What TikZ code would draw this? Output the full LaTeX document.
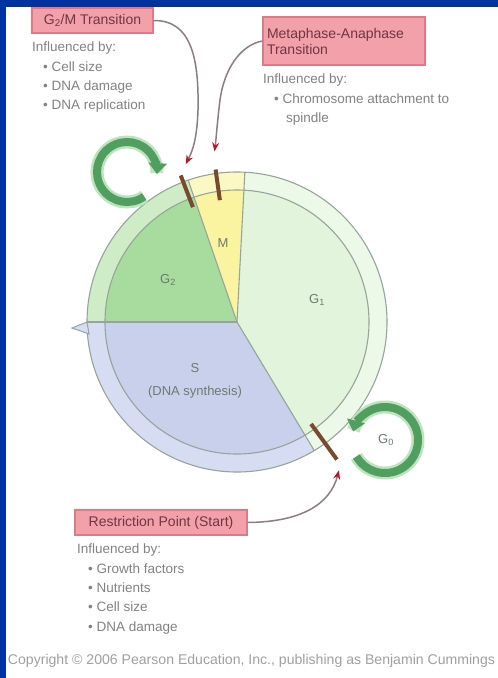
\documentclass[tikz,border=0pt]{standalone}
\usepackage{fontspec}
\setmainfont{Liberation Sans}
\usetikzlibrary{arrows.meta,calc}
\definecolor{bgblue}{RGB}{0,51,160}
\definecolor{gtwo}{RGB}{168,220,158}
\definecolor{gtworing}{RGB}{206,236,198}
\definecolor{mcol}{RGB}{250,244,160}
\definecolor{mring}{RGB}{252,248,196}
\definecolor{gone}{RGB}{226,244,220}
\definecolor{gonering}{RGB}{236,248,232}
\definecolor{scol}{RGB}{200,208,236}
\definecolor{sring}{RGB}{214,220,242}
\definecolor{edgec}{RGB}{150,165,155}
\definecolor{cpbrown}{RGB}{122,74,46}
\definecolor{tipred}{RGB}{190,20,40}
\definecolor{connc}{RGB}{140,125,132}
\definecolor{boxfill}{RGB}{242,160,170}
\definecolor{boxedge}{RGB}{224,120,136}
\definecolor{boxtext}{RGB}{110,55,65}
\definecolor{listgray}{RGB}{130,130,130}
\definecolor{loopgreen}{RGB}{80,158,96}
\definecolor{loophalo}{RGB}{190,228,190}
\definecolor{phasegray}{RGB}{110,122,110}
\definecolor{copygray}{RGB}{160,160,160}
\newcommand{\wedgefill}[4]{\fill[#4] (C) -- ($(C)+(#1:#3)$) arc[start angle=#1,end angle=#2,radius=#3] -- cycle;}
\tikzset{
  tbox/.style={draw=boxedge, fill=boxfill, line width=1.2pt, text=boxtext,
    font=\fontsize{14}{16}\selectfont, inner sep=3pt},
  listtext/.style={anchor=north west, inner sep=0pt, align=left, text=listgray,
    font=\fontsize{13.5}{19.3}\selectfont},
  phaselabel/.style={text=phasegray, font=\fontsize{13}{16}\selectfont, inner sep=1pt},
  edgeline/.style={draw=edgec, line width=1.1pt},
  cpbar/.style={draw=cpbrown, line width=4pt},
  conn/.style={draw=connc, line width=1.5pt, -{Stealth[color=tipred,length=9pt,width=7pt]}},
  loophaloline/.style={draw=loophalo, line width=13pt},
  loopline/.style={draw=loopgreen, line width=8pt},
}
\begin{document}
\begin{tikzpicture}[x=1pt,y=-1pt]
\useasboundingbox (0,0) rectangle (498,678);
\fill[white] (0,0) rectangle (498,678);
\fill[bgblue] (0,0) rectangle (498,7);
\fill[bgblue] (0,0) rectangle (6,678);

\coordinate (C) at (237,322);
% ring wedges
\wedgefill{273}{419}{150}{gonering}
\wedgefill{59}{180}{150}{sring}
\wedgefill{180}{251}{150}{gtworing}
\wedgefill{251}{273}{150}{mring}
% inner wedges
\wedgefill{273}{419}{132}{gone}
\wedgefill{59}{180}{132}{scol}
\wedgefill{180}{251}{132}{gtwo}
\wedgefill{251}{273}{132}{mcol}
% strokes
\draw[edgeline] (C) circle[radius=150];
\draw[edgeline] (C) circle[radius=132];
\foreach \a in {59,180,251,273} \draw[edgeline] (C) -- ($(C)+(\a:150)$);
% S arrow barb
\filldraw[fill=sring, draw=edgec, line width=1pt] (87,322) -- (72,328) -- (89,334) -- cycle;

% loops
\draw[loophaloline] (127,172) ++(55:30) arc[start angle=55,end angle=362,radius=30];
\draw[loopline, -{Triangle[length=11pt,width=18pt]}] (127,172) ++(55:30) arc[start angle=55,end angle=364,radius=30];
\draw[loophaloline] (385,440) ++(150:33) arc[start angle=150,end angle=-163,radius=33];
\draw[loopline, -{Triangle[length=11pt,width=18pt]}] (385,440) ++(150:33) arc[start angle=150,end angle=-165,radius=33];

% checkpoint bars
\draw[cpbar] ($(C)+(249:123)$) -- ($(C)+(249:157)$);
\draw[cpbar] ($(C)+(262:123)$) -- ($(C)+(262:154)$);
\draw[cpbar] ($(C)+(54:126)$) -- ($(C)+(54:170)$);
\coordinate (cp1) at ($(C)+(252:166)$);
\coordinate (cp2) at ($(C)+(262.5:172)$);
\coordinate (cp3) at ($(C)+(55.5:180)$);

% phase labels
\node[phaselabel] (lg2) at (168,280) {G\textsubscript{2}};
\node[phaselabel] (lm) at (223,243) {M};
\node[phaselabel] (lg1) at (317,300) {G\textsubscript{1}};
\node[phaselabel] (ls) at (195,368) {S};
\node[phaselabel] (lds) at (195,392) {(DNA synthesis)};
\node[phaselabel] (lg0) at (386,440) {G\textsubscript{0}};

% boxes
\node[tbox, minimum width=121pt, minimum height=25pt] (b1) at (92.5,20.5) {G\textsubscript{2}/M Transition};
\node[tbox, minimum width=162pt, minimum height=48pt, text width=154pt, align=left] (b2) at (344,41) {Metaphase-Anaphase\\Transition};
\node[tbox, minimum width=172pt, minimum height=25pt] (b3) at (161,522.5) {Restriction Point (Start)};

% lists
\node[listtext] (l1) at (32,42) {Influenced by:\\\hspace*{11pt}\textbullet\ Cell size\\\hspace*{11pt}\textbullet\ DNA damage\\\hspace*{11pt}\textbullet\ DNA replication};
\node[listtext] (l2) at (263,74) {Influenced by:\\\hspace*{11pt}\textbullet\ Chromosome attachment to\\\hspace*{23pt}spindle};
\node[listtext] (l3) at (77,544) {Influenced by:\\\hspace*{11pt}\textbullet\ Growth factors\\\hspace*{11pt}\textbullet\ Nutrients\\\hspace*{11pt}\textbullet\ Cell size\\\hspace*{11pt}\textbullet\ DNA damage};

% connectors
\draw[conn] (b1.east) .. controls (192,20) and (199,60) .. (198,110) .. controls (197,138) and (193,150) .. (cp1);
\draw[conn] (b2.west) .. controls (240,45) and (224,70) .. (220,100) .. controls (217,125) and (216,140) .. (cp2);
\draw[conn] (b3.east) .. controls (300,522) and (330,505) .. (cp3);

% copyright
\node[text=copygray, inner sep=0pt] (copy) at (251.5,661) {\resizebox{487pt}{!}{Copyright \textcopyright\ 2006 Pearson Education, Inc., publishing as Benjamin Cummings}};
\end{tikzpicture}
\end{document}
